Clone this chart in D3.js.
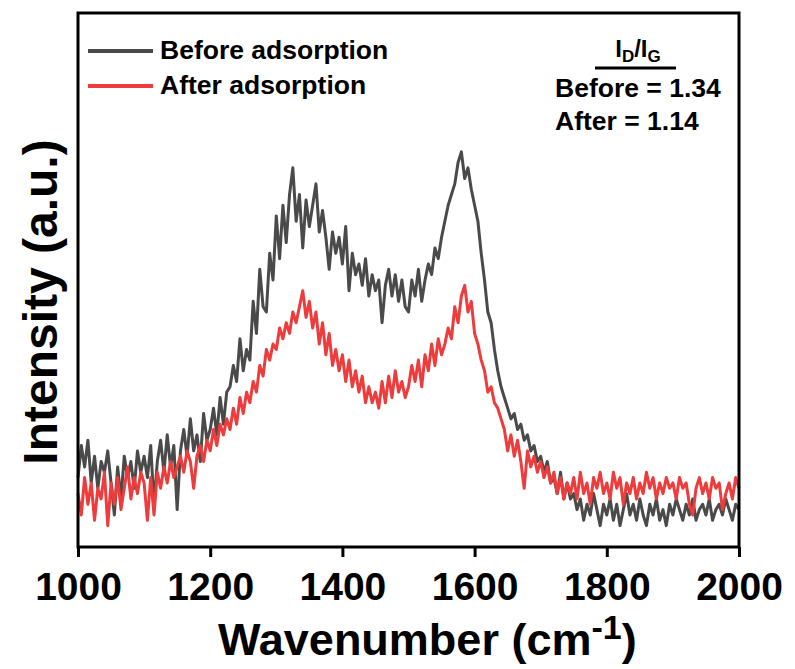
<!DOCTYPE html>
<html>
<head>
<meta charset="utf-8">
<script src="https://cdn.jsdelivr.net/npm/d3@7"></script>
<style>
  body { margin: 0; background: #fff; }
  svg text { font-family: "Liberation Sans", Arial, sans-serif; font-weight: bold; fill: #000; }
</style>
</head>
<body>
<div id="chart"></div>
<script>

// -----------------------------------------------------------------------------
// Data (intensity in a.u. 0-100)
// -----------------------------------------------------------------------------

var wavenumbers = d3.range(1000, 2001, 5);

var before = [
  13, 19, 15, 20, 12, 17, 11, 16, 14, 18,
  12, 6, 15, 9, 17, 13, 16, 11, 18, 14,
  17, 13, 19, 8, 16, 20, 14, 21, 15, 19,
  7, 18, 22, 17, 24, 18, 21, 16, 25, 20,
  22, 26, 21, 28, 23, 29, 30, 34, 31, 39,
  33, 37, 35, 46, 40, 52, 45, 44, 55, 50,
  62, 54, 64, 57, 66, 71, 61, 66, 56, 65,
  60, 64, 68, 59, 63, 58, 52, 59, 55, 58,
  53, 60, 48, 55, 51, 53, 49, 54, 47, 51,
  48, 50, 42, 49, 52, 47, 51, 46, 50, 45,
  44, 50, 47, 52, 46, 50, 53, 51, 56, 54,
  58, 61, 64, 66, 68, 72, 74, 69, 71, 67,
  64, 61, 55, 50, 44, 42, 37, 33, 30, 28,
  26, 24, 25, 22, 23, 20, 21, 18, 19, 16,
  17, 14, 16, 12, 13, 10, 14, 9, 12, 9,
  10, 7, 9, 5, 8, 6, 10, 7, 4, 8,
  6, 9, 5, 8, 4, 7, 10, 6, 8, 5,
  9, 6, 4, 8, 6, 9, 5, 7, 4, 8,
  6, 9, 7, 5, 8, 6, 9, 5, 7, 8,
  6, 9, 5, 7, 8, 6, 9, 7, 5, 8,
  7
];

var after = [
  10, 6, 13, 8, 12, 5, 11, 9, 14, 4,
  12, 8, 13, 7, 11, 15, 9, 13, 10, 14,
  12, 5, 13, 6, 14, 11, 15, 12, 16, 13,
  15, 17, 14, 18, 16, 11, 17, 19, 16, 20,
  18, 22, 19, 23, 21, 24, 22, 26, 23, 28,
  25, 29, 27, 31, 29, 34, 32, 37, 35, 38,
  37, 41, 39, 42, 40, 44, 42, 45, 48, 43,
  46, 41, 44, 38, 42, 36, 40, 34, 37, 33,
  36, 31, 35, 30, 33, 29, 32, 27, 30, 27,
  29, 26, 31, 27, 32, 28, 33, 29, 31, 28,
  30, 34, 31, 35, 30, 36, 33, 38, 34, 39,
  36, 38, 41, 39, 45, 42, 47, 49, 44, 46,
  40, 38, 35, 33, 29, 30, 27, 26, 24, 22,
  18, 21, 17, 20, 16, 11, 18, 15, 17, 14,
  16, 13, 15, 12, 14, 10, 13, 9, 12, 10,
  13, 9, 14, 10, 12, 8, 13, 11, 14, 10,
  12, 9, 14, 11, 13, 8, 12, 10, 13, 9,
  12, 10, 14, 11, 13, 9, 12, 10, 13, 11,
  12, 9, 13, 11, 12, 8, 6, 11, 13, 10,
  12, 9, 13, 11, 12, 7, 10, 12, 9, 13,
  11
];

var xTicks = [1000, 1200, 1400, 1600, 1800, 2000];
var seriesNames = ["Before adsorption", "After adsorption"];
var seriesColors = ["#4a4a4a", "#ee3b3b"];
var ratioLabels = ["Before = 1.34", "After = 1.14"];

// -----------------------------------------------------------------------------
// D3 Configurations
// -----------------------------------------------------------------------------

var margin = {top: 13, right: 56, bottom: 122, left: 78},
    width = 795 - margin.left - margin.right,
    height = 669 - margin.top - margin.bottom;

var xScale = d3.scaleLinear()
    .domain([1000, 2000])
    .range([0, width]);

var yScale = d3.scaleLinear()
    .domain([0, 100])
    .range([height, 0]);

var line = d3.line()
    .x(function(d) { return xScale(d.x); })
    .y(function(d) { return yScale(d.y); });

var svg = d3.select("#chart").append("svg")
    .attr("width", width + margin.left + margin.right)
    .attr("height", height + margin.top + margin.bottom)
  .append("g")
    .attr("transform", "translate(" + margin.left + "," + margin.top + ")");

// spectra, gray first so the red one sits on top
[before, after].forEach(function(values, i) {
  var data = values.map(function(v, j) { return {x: wavenumbers[j], y: v}; });
  svg.append("path")
      .datum(data)
      .attr("fill", "none")
      .attr("stroke", seriesColors[i])
      .attr("stroke-width", 3)
      .attr("stroke-linejoin", "round")
      .attr("d", line);
});

// frame
svg.append("rect")
    .attr("width", width)
    .attr("height", height)
    .attr("fill", "none")
    .attr("stroke", "#000")
    .attr("stroke-width", 3);

var xAxis = svg.append("g")
    .attr("transform", "translate(0," + height + ")")
    .call(d3.axisBottom(xScale)
        .tickValues(xTicks)
        .tickSize(10)
        .tickPadding(15)
        .tickFormat(d3.format("d")));

xAxis.select(".domain").remove();
xAxis.selectAll(".tick line")
    .attr("stroke", "#000")
    .attr("stroke-width", 3);
xAxis.selectAll(".tick text")
    .attr("font-family", null)
    .style("font-size", "39px");

// axis titles
var xTitle = svg.append("text")
    .attr("x", 140)
    .attr("y", height + 108)
    .style("font-size", "45px");
xTitle.append("tspan").text("Wavenumber (cm");
xTitle.append("tspan")
    .attr("dy", -16)
    .style("font-size", "34px")
    .text("-1");
xTitle.append("tspan")
    .attr("dy", 16)
    .text(")");

svg.append("text")
    .attr("transform", "translate(-21," + (height / 2 + 22) + ") rotate(-90)")
    .attr("text-anchor", "middle")
    .style("font-size", "48px")
    .text("Intensity (a.u.)");

// legend
seriesNames.forEach(function(name, i) {
  var yy = 38 + i * 35;
  svg.append("line")
      .attr("x1", 10).attr("x2", 75)
      .attr("y1", yy).attr("y2", yy)
      .attr("stroke", seriesColors[i])
      .attr("stroke-width", 4);
  svg.append("text")
      .attr("x", 82)
      .attr("y", yy + 8)
      .style("font-size", "26.5px")
      .text(name);
});

// ID/IG ratio box
var ratio = svg.append("text")
    .attr("x", 560)
    .attr("y", 44)
    .attr("text-anchor", "middle")
    .style("font-size", "24px");
ratio.append("tspan").text("I");
ratio.append("tspan").attr("dy", 5).style("font-size", "17px").text("D");
ratio.append("tspan").attr("dy", -5).text("/I");
ratio.append("tspan").attr("dy", 5).style("font-size", "17px").text("G");

svg.append("line")
    .attr("x1", 517).attr("x2", 598)
    .attr("y1", 55).attr("y2", 55)
    .attr("stroke", "#000")
    .attr("stroke-width", 3);

ratioLabels.forEach(function(t, i) {
  svg.append("text")
      .attr("x", 477)
      .attr("y", 84 + i * 33)
      .style("font-size", "26.5px")
      .text(t);
});

</script>
</body>
</html>
